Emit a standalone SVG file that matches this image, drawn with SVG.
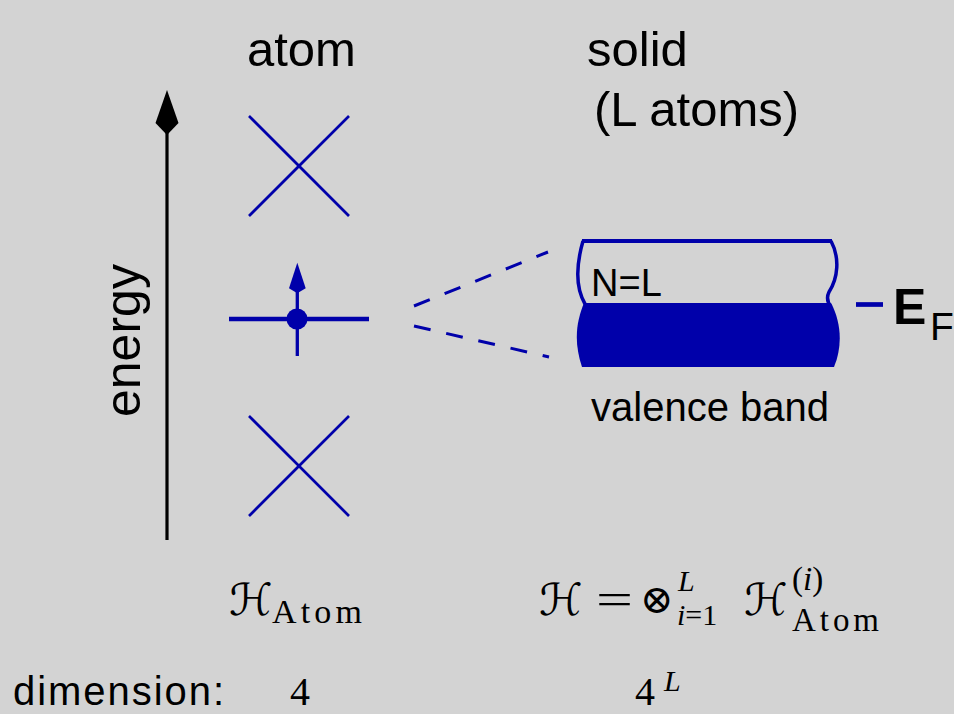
<svg xmlns="http://www.w3.org/2000/svg" width="954" height="714" viewBox="0 0 954 714">
<style>
.sans{font-family:"Liberation Sans",Arial,sans-serif;fill:#000}
.serif{font-family:"Liberation Serif","DejaVu Serif",serif;fill:#000}
.cal{font-family:"DejaVu Serif","DejaVu Sans",serif;font-style:italic;fill:#000}
.blue{stroke:#0000aa;fill:none}
.dash{stroke:#0000aa;stroke-width:3;stroke-dasharray:17 16;fill:none}
</style>
<rect x="0" y="0" width="954" height="714" fill="#d3d3d3"/>

<g id="energy-axis">
  <line x1="167" y1="540" x2="167" y2="130" stroke="#000" stroke-width="3.2"/>
  <polygon points="167,90 178.5,123 167,135 155.5,123" fill="#000"/>
  <text class="sans" font-size="50" transform="translate(140,417) rotate(-90)">energy</text>
</g>

<g id="title-atom"><text class="sans" x="247" y="66" font-size="49">atom</text></g>
<g id="title-solid">
  <text class="sans" x="587" y="66" font-size="49">solid</text>
  <text class="sans" x="594" y="126" font-size="49">(L atoms)</text>
</g>

<g id="level-top">
  <line class="blue" stroke-width="2.7" x1="249" y1="116" x2="349" y2="216"/>
  <line class="blue" stroke-width="2.7" x1="349" y1="116" x2="249" y2="216"/>
</g>

<g id="level-middle">
  <line class="blue" stroke-width="4.5" x1="229" y1="319" x2="369" y2="319"/>
  <line class="blue" stroke-width="3.3" x1="297.3" y1="356" x2="297.3" y2="288"/>
  <polygon points="297.3,262.7 305.7,288.3 297.3,293.3 289,288.3" fill="#0000aa"/>
  <circle cx="297" cy="319" r="10.5" fill="#0000aa"/>
</g>

<g id="level-bottom">
  <line class="blue" stroke-width="2.7" x1="249" y1="416" x2="349" y2="516"/>
  <line class="blue" stroke-width="2.7" x1="349" y1="416" x2="249" y2="516"/>
</g>

<g id="connectors">
  <line class="dash" x1="414" y1="306" x2="548" y2="252"/>
  <line class="dash" x1="414" y1="326" x2="549" y2="357"/>
</g>

<g id="valence-band">
  <path d="M584,303 L831,303 C841,322 843,345 834,367 L582,367 C573,340 577,320 584,303 Z" fill="#0000aa"/>
  <line class="blue" stroke-width="4" x1="582" y1="241" x2="832" y2="241"/>
  <path class="blue" stroke-width="3.5" d="M583,241 C577,262 574,285 585,304"/>
  <path class="blue" stroke-width="3.5" d="M831,241 C840,258 838,278 829,292 C826,298 828,303 831,307"/>
  <text class="sans" x="591" y="296" font-size="38">N=L</text>
  <text class="sans" x="591" y="421" font-size="40">valence band</text>
</g>

<g id="fermi-level">
  <line class="blue" stroke-width="4.7" x1="856" y1="304.5" x2="883" y2="304.5"/>
  <text class="sans" x="893" y="324" font-size="50" font-weight="bold">E</text>
  <text class="sans" x="930" y="340" font-size="39">F</text>
</g>

<g id="formula-atom">
  <text class="cal" x="229" y="615" font-size="44">ℋ</text>
  <text class="serif" x="272" y="623" font-size="34" textLength="90" lengthAdjust="spacing">Atom</text>
</g>

<g id="formula-solid">
  <text class="cal" x="539" y="615" font-size="44">ℋ</text>
  <text class="serif" x="596" y="614" font-size="44" textLength="37" lengthAdjust="spacingAndGlyphs">=</text>
  <text x="640" y="613" font-size="40" style="font-family:'DejaVu Serif',serif">⊗</text>
  <text class="serif" font-size="30"><tspan x="678" y="591" font-style="italic">L</tspan><tspan x="677" y="625"><tspan font-style="italic">i</tspan>=1</tspan></text>
  <text class="cal" x="744" y="615" font-size="44">ℋ</text>
  <text class="serif" font-size="33"><tspan x="792" y="590">(<tspan font-style="italic">i</tspan>)</tspan><tspan x="792" y="631" textLength="87" lengthAdjust="spacing">Atom</tspan></text>
</g>

<g id="dimension">
  <text class="sans" x="13" y="705" font-size="40" textLength="211" lengthAdjust="spacing">dimension:</text>
  <text class="serif" x="290" y="705" font-size="40">4</text>
  <text class="serif" x="635" y="705" font-size="40">4</text>
  <text class="serif" x="664" y="691" font-size="30" font-style="italic">L</text>
</g>
</svg>
